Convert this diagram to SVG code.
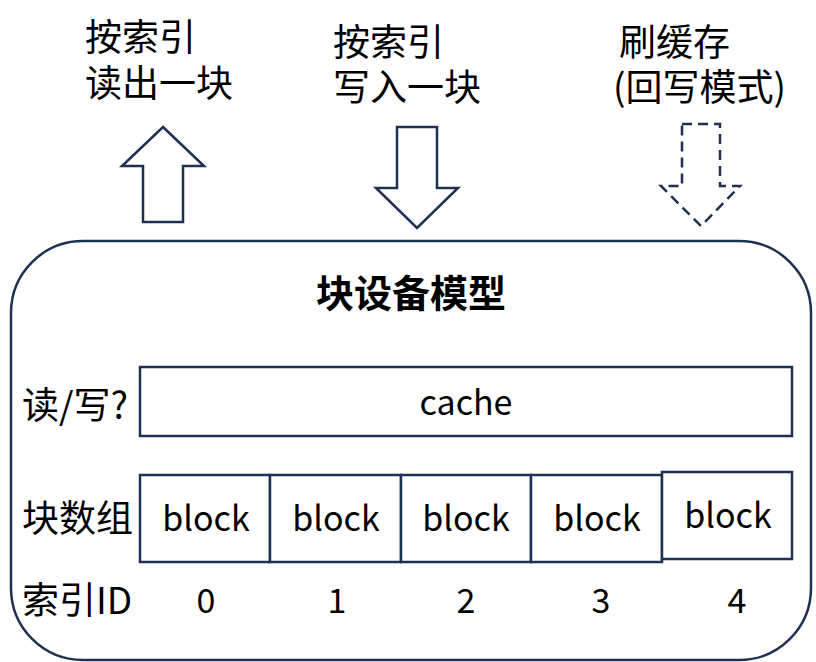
<svg xmlns="http://www.w3.org/2000/svg" width="816" height="662" viewBox="0 0 816 662">
<style>
.s{fill:#fff;stroke:#1f3050;stroke-width:2.5}
.t{font-family:"Noto Sans CJK SC","Liberation Sans",sans-serif;fill:#000}
.c{font-size:34px;text-anchor:middle}
.l{font-size:37px}
</style>
<rect width="816" height="662" fill="#fff"/>
<g id="labels-top">
<text class="t l" x="85" y="51">按索引</text>
<text class="t l" x="85" y="97">读出一块</text>
<text class="t l" x="333" y="56">按索引</text>
<text class="t l" x="333" y="101">写入一块</text>
<text class="t l" x="619" y="56">刷缓存</text>
<text class="t l" x="613" y="101">(回写模式)</text>
</g>
<g id="connectors">
<polygon class="s" points="163,127 204,166 183,166 183,222 143,222 143,166 122,166"/>
<polygon class="s" points="397,127 437,127 437,188 458,188 417,228 376,188 397,188"/>
<polygon class="s" stroke-dasharray="10,6" points="682,124 720,124 720,186 740,186 701,226 661,186 682,186"/>
</g>
<g id="model">
<rect class="s" x="11" y="241" width="800" height="419" rx="72" ry="72"/>
<text class="t" x="411" y="307" font-size="38" font-weight="bold" text-anchor="middle">块设备模型</text>
</g>
<g id="row-labels">
<text class="t l" x="22" y="419">读/写?</text>
<text class="t l" x="22" y="532">块数组</text>
<text class="t l" x="22" y="614">索引ID</text>
</g>
<g id="cache">
<rect class="s" x="140" y="367" width="652" height="69"/>
<text class="t c" x="466" y="415">cache</text>
</g>
<g id="block0"><rect class="s" x="140" y="475" width="130" height="87"/><text class="t c" x="206" y="531">block</text></g>
<g id="block1"><rect class="s" x="270" y="475" width="131" height="87"/><text class="t c" x="336" y="531">block</text></g>
<g id="block2"><rect class="s" x="401" y="475" width="130" height="87"/><text class="t c" x="466" y="531">block</text></g>
<g id="block3"><rect class="s" x="531" y="475" width="131" height="87"/><text class="t c" x="597" y="531">block</text></g>
<g id="block4"><rect class="s" x="662" y="472" width="130" height="87"/><text class="t c" x="728" y="528">block</text></g>
<g id="ids">
<text class="t c" x="206" y="613">0</text>
<text class="t c" x="337" y="613">1</text>
<text class="t c" x="466" y="613">2</text>
<text class="t c" x="601" y="613">3</text>
<text class="t c" x="737" y="613">4</text>
</g>
</svg>
